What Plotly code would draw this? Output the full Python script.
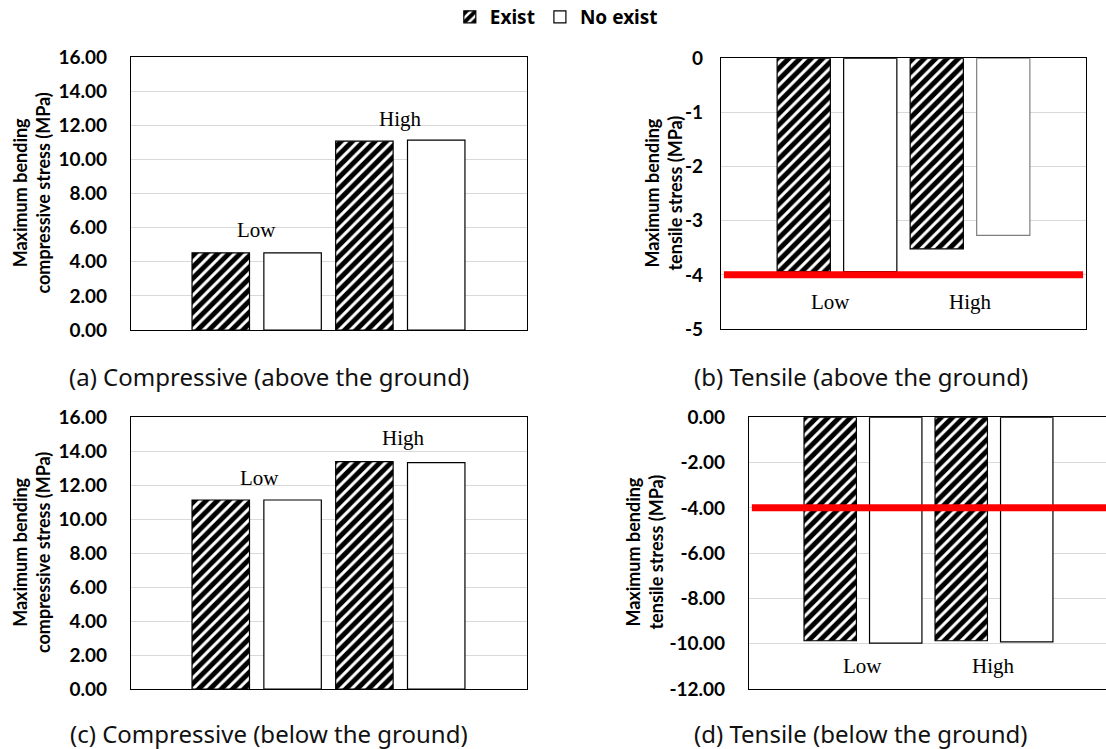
import plotly.graph_objects as go

# ---- data -------------------------------------------------------------
categories = ["Low", "High"]
series_names = ["Exist", "No exist"]

comp_above_exist = [4.53, 11.08]
comp_above_none = [4.53, 11.14]
tens_above_exist = [-3.94, -3.52]
tens_above_none = [-3.94, -3.27]
comp_below_exist = [11.13, 13.39]
comp_below_none = [11.13, 13.33]
tens_below_exist = [-9.87, -9.87]
tens_below_none = [-9.97, -9.92]

allowable_tensile = -4.0

comp_ticks = [0, 2, 4, 6, 8, 10, 12, 14, 16]
comp_ticktext = ["0.00", "2.00", "4.00", "6.00", "8.00", "10.00", "12.00", "14.00", "16.00"]
tens_above_ticks = [0, -1, -2, -3, -4, -5]
tens_above_ticktext = ["0", "-1", "-2", "-3", "-4", "-5"]
tens_below_ticks = [0, -2, -4, -6, -8, -10, -12]
tens_below_ticktext = ["0.00", "-2.00", "-4.00", "-6.00", "-8.00", "-10.00", "-12.00"]

panel_titles = [
    "(a) Compressive (above the ground)",
    "(b) Tensile (above the ground)",
    "(c) Compressive (below the ground)",
    "(d) Tensile (below the ground)",
]
comp_ytitle = "Maximum bending<br>compressive stress (MPa)"
tens_ytitle = "Maximum bending<br>tensile stress (MPa)"

# ---- page geometry (pixels) --------------------------------------------
W, H = 1106, 749


def xd(a, b):
    return [a / W, min(b / W, 1.0)]


def yd(top, bottom):
    return [1 - bottom / H, 1 - top / H]


TICK_FONT = dict(family="Lato", size=19, color="black", weight="bold")
TITLE_FONT = dict(family="Lato", size=18, color="black", weight="bold")
CAT_FONT = dict(family="Liberation Serif", size=21, color="black")
CAPTION_FONT = dict(family="Noto Sans", size=24, color="#111111")

HATCH = dict(shape="/", fgcolor="black", bgcolor="white", fgopacity=1,
             size=8, solidity=0.62)

panels = [
    dict(exist=comp_above_exist, none=comp_above_none, ax="",
         xdom=xd(131, 527), ydom=yd(57.3, 330), yr=[0, 16],
         tv=comp_ticks, tt=comp_ticktext, xr=[-0.875, 1.882], sto=19,
         cat_y=[5.86, 12.4], cat_dx=[0.0, 0.0], none_line="black"),
    dict(exist=tens_above_exist, none=tens_above_none, ax="2",
         xdom=xd(721, 1086), ydom=yd(58.3, 329), yr=[-5, 0],
         tv=tens_above_ticks, tt=tens_above_ticktext, xr=[-0.872, 1.872], sto=13,
         cat_y=[-4.5, -4.5], cat_dx=[-0.05, 0.0], none_line=["black", "#7f7f7f"]),
    dict(exist=comp_below_exist, none=comp_below_none, ax="3",
         xdom=xd(131, 527), ydom=yd(417.3, 689), yr=[0, 16],
         tv=comp_ticks, tt=comp_ticktext, xr=[-0.875, 1.882], sto=19,
         cat_y=[12.4, 14.8], cat_dx=[0.02, 0.02], none_line="black"),
    dict(exist=tens_below_exist, none=tens_below_none, ax="4",
         xdom=xd(749, 1106), ydom=yd(417.3, 689), yr=[-12, 0],
         tv=tens_below_ticks, tt=tens_below_ticktext, xr=[-0.87, 1.855], sto=19,
         cat_y=[-11.0, -11.0], cat_dx=[0.0, 0.0], none_line="black"),
]

fig = go.Figure()
xpos = list(range(len(categories)))

layout = dict(
    width=W, height=H,
    margin=dict(l=0, r=0, t=0, b=0, autoexpand=False),
    paper_bgcolor="white", plot_bgcolor="white",
    barmode="group", bargap=0.0, bargroupgap=0.2,
    showlegend=True,
    legend=dict(orientation="h", x=0.503, xanchor="center", y=1 - 17 / H, yanchor="middle",
                font=dict(family="Noto Sans", size=19, color="black", weight="bold"),
                itemwidth=30, tracegroupgap=0, bgcolor="rgba(0,0,0,0)"),
    annotations=[], shapes=[],
)

for i, p in enumerate(panels):
    ax = p["ax"]
    xa, ya = "x" + ax, "y" + ax
    fig.add_trace(go.Bar(
        x=xpos, y=p["exist"], name=series_names[0], legendgroup="exist",
        showlegend=(i == 0), xaxis=xa, yaxis=ya,
        marker=dict(color="white", pattern=HATCH, line=dict(color="black", width=1.2)),
    ))
    fig.add_trace(go.Bar(
        x=xpos, y=p["none"], name=series_names[1], legendgroup="none",
        showlegend=(i == 0), xaxis=xa, yaxis=ya,
        marker=dict(color="white", line=dict(color=p["none_line"], width=1.2)),
    ))

    is_d = ax == "4"
    layout["xaxis" + ax] = dict(
        domain=p["xdom"], range=p["xr"], anchor=ya,
        showticklabels=False, ticks="", showgrid=False, zeroline=False,
        showline=True, linecolor="black", linewidth=1.2, mirror=True,
        fixedrange=True,
    )
    layout["yaxis" + ax] = dict(
        domain=p["ydom"], range=p["yr"], anchor=xa,
        tickvals=p["tv"], ticktext=p["tt"], tickfont=TICK_FONT,
        ticks="", ticklabelstandoff=p["sto"],
        showgrid=True, gridcolor="#d9d9d9", gridwidth=1.3, zeroline=False,
        showline=True, linecolor="black", linewidth=1.2, mirror=(not is_d),
        fixedrange=True,
    )

    # category labels inside the plot area
    for k, cat in enumerate(categories):
        layout["annotations"].append(dict(
            x=xpos[k] + p["cat_dx"][k], y=p["cat_y"][k], xref=xa, yref=ya,
            text=cat, showarrow=False, font=CAT_FONT,
        ))

# allowable tensile stress line in the tensile panels
for ax in ["2", "4"]:
    layout["shapes"].append(dict(
        type="line", xref="x" + ax + " domain", yref="y" + ax,
        x0=0.008, x1=0.992 if ax == "2" else 1.0,
        y0=allowable_tensile, y1=allowable_tensile,
        line=dict(color="#ff0000", width=7), layer="above",
    ))

# y-axis titles (two lines each)
ytitle_specs = [
    (comp_ytitle, 31, 193.5),
    (tens_ytitle, 663, 193.5),
    (comp_ytitle, 31, 553),
    (tens_ytitle, 644, 552.5),
]
for text, cx, cy in ytitle_specs:
    layout["annotations"].append(dict(
        x=cx / W, y=1 - cy / H, xref="paper", yref="paper",
        text=text, textangle=-90, showarrow=False, font=TITLE_FONT,
        xanchor="center", yanchor="middle", align="center",
    ))

# panel captions
caption_pos = [(269, 376), (861, 376), (269, 733), (861, 733)]
for text, (cx, cy) in zip(panel_titles, caption_pos):
    layout["annotations"].append(dict(
        x=cx / W, y=1 - cy / H, xref="paper", yref="paper",
        text=text, showarrow=False, font=CAPTION_FONT,
        xanchor="center", yanchor="middle",
    ))

fig.update_layout(**layout)
fig.write_html("out.html")
